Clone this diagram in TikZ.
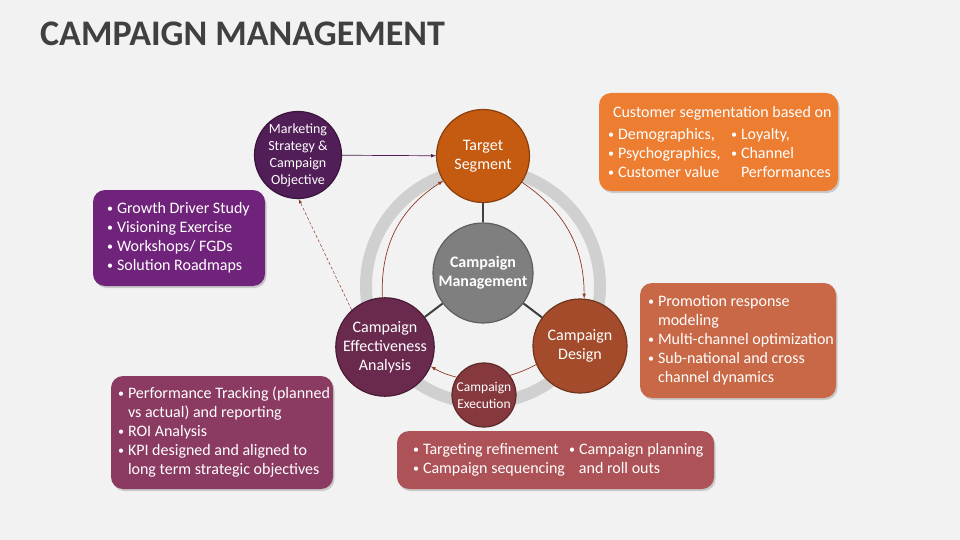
\documentclass[tikz,border=0pt]{standalone}
\usepackage{fontspec}
\setmainfont{Carlito}
\usepackage{tikz}
\usetikzlibrary{shadows}

\definecolor{bggray}{HTML}{F2F2F2}
\definecolor{titlegray}{HTML}{404040}
\definecolor{ringgray}{HTML}{D0D0D0}
\definecolor{spokegray}{HTML}{3F3F3F}
\definecolor{targetfill}{HTML}{C55A11}
\definecolor{designfill}{HTML}{A34B2A}
\definecolor{execfill}{HTML}{86393D}
\definecolor{effectfill}{HTML}{6A2A4E}
\definecolor{mktfill}{HTML}{511E57}
\definecolor{centerfill}{HTML}{7F7F7F}
\definecolor{segbox}{HTML}{ED7D31}
\definecolor{mktbox}{HTML}{70237A}
\definecolor{designbox}{HTML}{C96846}
\definecolor{effectbox}{HTML}{8B3A62}
\definecolor{execbox}{HTML}{AD5257}
\definecolor{flowbrown}{HTML}{8E3B26}

\newcommand{\bitem}{\makebox[10pt][l]{\raisebox{1pt}{\fontsize{12}{12}\selectfont\textbullet}}}
\newcommand{\bskip}{\hspace*{10pt}}

\begin{document}
\begin{tikzpicture}[x=1pt, y=-1pt,
  stage/.style={circle, inner sep=0pt, text=white, align=center, line width=1.2pt,
    font=\fontsize{16}{19}\selectfont},
  panel/.style={rounded corners=12pt, inner sep=0pt,
    drop shadow={opacity=0.35, shadow xshift=1.5pt, shadow yshift=-2pt}},
  paneltext/.style={anchor=west, inner sep=0pt, text=white, align=left,
    font=\fontsize{16}{19}\selectfont},
  flow/.style={->, >=latex, line width=0.7pt, flowbrown}]
\fill[bggray] (0,0) rectangle (960,540);

% title
\node[anchor=base west, inner sep=0pt, text=titlegray, font=\fontsize{36}{40}\selectfont\bfseries]
  (title) at (40,46) {CAMPAIGN MANAGEMENT};

% ring behind the cycle
\draw[ringgray, line width=12] (483,286) circle (117);

% circles
\node[stage, fill=centerfill, draw=centerfill!75!black, minimum size=100, font=\fontsize{16}{19}\selectfont\bfseries]
  (cm) at (483,273) {Campaign\\Management};
\node[stage, fill=targetfill, draw=targetfill!70!black, minimum size=93] (ts) at (483,156) {Target\\Segment};
\node[stage, fill=designfill, draw=designfill!70!black, minimum size=94] (cd) at (580,346) {Campaign\\Design};
\node[stage, fill=effectfill, draw=effectfill!70!black, minimum size=92] (cea) at (385,347) {Campaign\\Effectiveness\\Analysis};
\node[stage, fill=execfill, draw=execfill!70!black, minimum size=64, font=\fontsize{13.5}{17}\selectfont]
  (ce) at (484,395) {Campaign\\Execution};
\node[stage, fill=mktfill, draw=mktfill!70!black, minimum size=87, font=\fontsize{14}{17}\selectfont]
  (msc) at (298,155) {Marketing\\Strategy \&\\Campaign\\Objective};

% spokes
\draw[spokegray, line width=2] (cm) -- (ts);
\draw[spokegray, line width=2] (cm) -- (cd);
\draw[spokegray, line width=2] (cm) -- (cea);

% flow
\draw[flow, mktfill] (msc) -- (ts);
\draw[flow] (ts.-34) to[bend left=28] (cd.85);
\draw[flowbrown, line width=0.7pt] (cd.203) to[bend left=5] (ce.37);
\draw[flow] (ce.147) to[bend left=8] (cea.-23);
\draw[flow] (cea.93) to[bend left=30] (ts.212);
\draw[flow, densely dashed, line width=0.5pt] (cea.132) -- (msc.-89);

% panels
\node[panel, fill=segbox, minimum width=239, minimum height=98] (segpanel) at (718.5,142) {};
\node[paneltext] (segtext) at ([xshift=9pt]segpanel.west) {%
  \hspace*{5pt}Customer segmentation based on\\[3pt]
  \makebox[123pt][l]{\bitem Demographics,}\bitem Loyalty,\\
  \makebox[123pt][l]{\bitem Psychographics,}\bitem Channel\\
  \makebox[123pt][l]{\bitem Customer value}\bskip Performances};

\node[panel, fill=mktbox, minimum width=172, minimum height=96] (mktpanel) at (179,238) {};
\node[paneltext] (mkttext) at ([xshift=14pt]mktpanel.west) {%
  \bitem Growth Driver Study\\
  \bitem Visioning Exercise\\
  \bitem Workshops/ FGDs\\
  \bitem Solution Roadmaps};

\node[panel, fill=designbox, minimum width=196, minimum height=115] (designpanel) at (738,340.5) {};
\node[paneltext] (designtext) at ([xshift=8pt]designpanel.west) {%
  \bitem Promotion response\\
  \bskip modeling\\
  \bitem Multi-channel optimization\\
  \bitem Sub-national and cross\\
  \bskip channel dynamics};

\node[panel, fill=effectbox, minimum width=222, minimum height=113] (effectpanel) at (222,432.5) {};
\node[paneltext] (effecttext) at ([xshift=7pt]effectpanel.west) {%
  \bitem Performance Tracking (planned\\
  \bskip vs actual) and reporting\\
  \bitem ROI Analysis\\
  \bitem KPI designed and aligned to\\
  \bskip long term strategic objectives};

\node[panel, fill=execbox, minimum width=317, minimum height=58] (execpanel) at (555.5,460) {};
\node[paneltext] (exectext) at ([xshift=16pt]execpanel.west) {%
  \makebox[156pt][l]{\bitem Targeting refinement}\bitem Campaign planning\\
  \makebox[156pt][l]{\bitem Campaign sequencing}\bskip and roll outs};
\end{tikzpicture}
\end{document}
